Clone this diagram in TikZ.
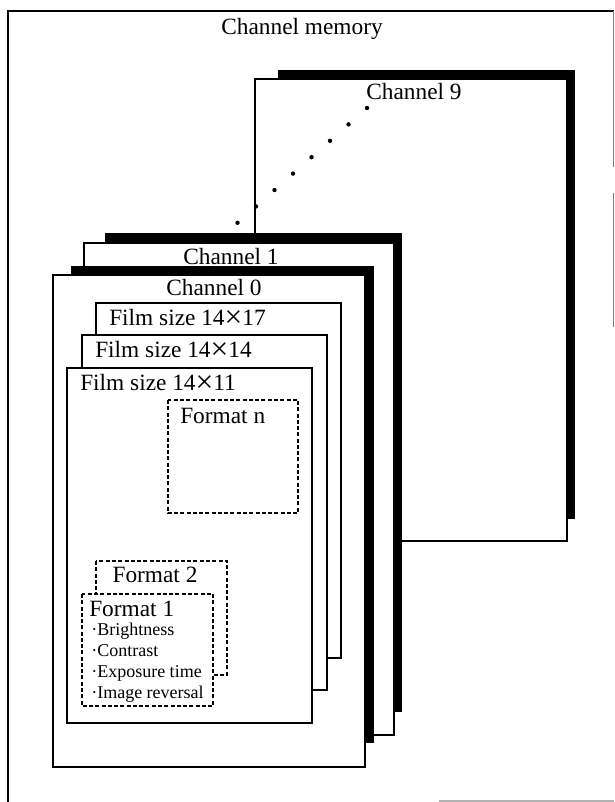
\documentclass[tikz,border=0pt]{standalone}
\usepackage{fontspec}
\setmainfont{Liberation Serif}
\usepackage{graphicx}
\usepackage{tikz}

\newcommand{\bigtimes}{\raisebox{-0.2ex}{\scalebox{1.35}{×}}}

\tikzset{
  sheet/.style={draw=black,fill=white,line width=0.9pt},
  fmtbox/.style={draw=black,fill=white,line width=0.9pt,dash pattern=on 3pt off 1.7pt},
  lbl/.style={inner sep=0pt,font=\fontsize{17.5}{20}\selectfont},
  itm/.style={inner sep=0pt,anchor=base west,font=\fontsize{13.5}{15}\selectfont}
}

\begin{document}
\begin{tikzpicture}[x=0.75pt,y=-0.75pt]
\useasboundingbox (0,0) rectangle (614,802);

% Draw the outer frame
\draw[line width=0.9pt] (614,11) -- (8,11) -- (8,802);
\draw[gray,line width=0.6pt] (613,11) -- (613,167) (613,193) -- (613,327);
\draw[gray!60,line width=1pt] (439,801) -- (614,801);
\node[lbl,anchor=base] (chmem) at (302,35) {Channel memory};

% Channel 9 (back sheet)
\fill (278,70) rectangle (575,519);
\draw[sheet] (255,79) rectangle (567,541);
\node[lbl,anchor=base] (ch9) at (414,100) {Channel 9};

% Dots between the channels
\foreach \i in {0,...,7}
    \fill (367-18.5*\i,108+16.4*\i) circle (2.2);

% Channel 1
\fill (105,233) rectangle (402,712);
\draw[sheet] (84,243) rectangle (394,735);
\node[lbl,anchor=base] (ch1) at (231,264) {Channel 1};

% Channel 0
\fill (71,266) rectangle (374,743);
\draw[sheet] (53,275) rectangle (365,767);
\node[lbl,anchor=base] (ch0) at (214,295) {Channel 0};

% Film size sheets
\foreach \x/\y/\n in {96/303/17, 82/335/14, 67/368/11} {
    \draw[sheet] (\x,\y) rectangle (\x+245,\y+355);
    \node[lbl,anchor=base west] (film\n) at (\x+13,\y+22) {Film size 14\bigtimes\n};
}

% Formats
\draw[fmtbox] (168,400) rectangle (298,513);
\node[lbl,anchor=base west] (fmtn) at (180,423) {Format n};

\draw[fmtbox] (96,561) rectangle (227,675);
\node[lbl,anchor=base] (fmt2) at (155,582) {Format 2};

\draw[fmtbox] (82,594) rectangle (213,706);
\node[lbl,anchor=base west] (fmt1) at (89,616) {Format 1};
\node[itm] (bright) at (91,635) {\textperiodcentered Brightness};
\node[itm] (contr) at (91,656) {\textperiodcentered Contrast};
\node[itm] (expo) at (91,677) {\textperiodcentered Exposure time};
\node[itm] (revers) at (91,698) {\textperiodcentered Image reversal};

\end{tikzpicture}
\end{document}
